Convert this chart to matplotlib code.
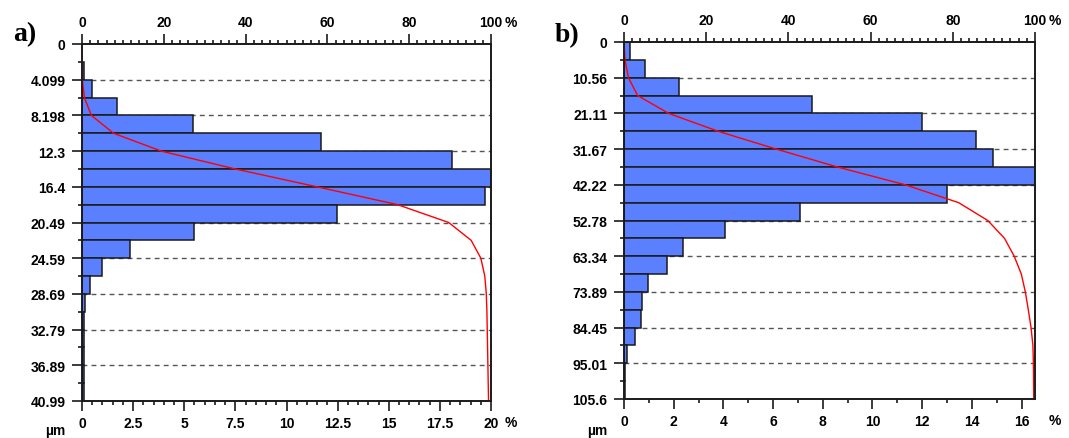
import numpy as np
import matplotlib.pyplot as plt
from matplotlib.ticker import MultipleLocator

plt.rcParams['font.family'] = ['Liberation Sans', 'DejaVu Sans']
plt.rcParams['font.weight'] = 'bold'

# a) size classes 0 .. 40.99 um, frequency in % per class
depth_a = 40.99
freq_a = [0.0, 0.08, 0.5, 1.71, 5.41, 11.68, 18.07, 20.0, 19.71, 12.49,
          5.5, 2.37, 0.96, 0.37, 0.15, 0.08, 0.08, 0.08, 0.08, 0.08]
labels_a = ['0', '4.099', '8.198', '12.3', '16.4', '20.49', '24.59',
            '28.69', '32.79', '36.89', '40.99']
pct_ticks_a = [0, 2.5, 5, 7.5, 10, 12.5, 15, 17.5, 20]

# b) size classes 0 .. 105.6 um
depth_b = 105.6
freq_b = [0.23, 0.86, 2.22, 7.57, 12.01, 14.16, 14.84, 16.54, 12.99, 7.09,
          4.07, 2.36, 1.73, 0.98, 0.72, 0.67, 0.45, 0.12, 0.04, 0.04]
labels_b = ['0', '10.56', '21.11', '31.67', '42.22', '52.78', '63.34',
            '73.89', '84.45', '95.01', '105.6']
pct_ticks_b = [0, 2, 4, 6, 8, 10, 12, 14, 16]

cum_ticks = [0, 20, 40, 60, 80, 100]

BLUE = '#5a80ff'
INK = '#1a1a1a'

fig = plt.figure(figsize=(10.69, 4.39), dpi=100)
W, H = 1069, 439


def px_rect(x0, y0, x1, y1):
    return [x0 / W, 1 - y1 / H, (x1 - x0) / W, (y1 - y0) / H]


def panel(rect, depth, freq, ylabels, xticks, xminor):
    ax = fig.add_axes(rect)
    edges = np.linspace(0, depth, len(freq) + 1)
    ax.barh(edges[:-1], freq, height=np.diff(edges), align='edge',
            color=BLUE, edgecolor=INK, linewidth=1.1, zorder=2)
    for y in edges[2:-1:2]:
        ax.axhline(y, color='#555555', lw=1.0, ls=(0, (3.5, 3)), zorder=1)
    ax.set_ylim(depth, 0)
    ax.set_xlim(0, max(freq))
    ax.set_yticks(edges[::2], ylabels)
    ax.set_yticks(edges[1::2], minor=True)
    ax.set_xticks(xticks, [f'{t:g}' for t in xticks])
    ax.xaxis.set_minor_locator(MultipleLocator(xminor))
    ax.tick_params(which='major', direction='out', length=7, width=1.2,
                   labelsize=10, pad=4, color=INK)
    ax.tick_params(which='minor', direction='out', length=3, width=1.2,
                   color=INK)
    ax.tick_params(axis='y', pad=5)
    for s in ax.spines.values():
        s.set_linewidth(1.2)
        s.set_color(INK)

    # cumulative curve on the top axis
    cum = ax.twiny()
    cum.set_xlim(0, 100)
    cum.plot(np.concatenate([[0], np.cumsum(freq)]), edges,
             color='red', lw=1.0)
    cum.set_xticks(cum_ticks, [f'{t:g}' for t in cum_ticks])
    cum.xaxis.set_minor_locator(MultipleLocator(2))
    cum.tick_params(which='major', direction='out', length=7, width=1.2,
                    labelsize=10, pad=4, color=INK)
    cum.tick_params(which='minor', direction='out', length=3, width=1.2,
                    color=INK)
    for s in cum.spines.values():
        s.set_linewidth(1.2)
        s.set_color(INK)

    ax.annotate('%', xy=(1, 0), xycoords='axes fraction', xytext=(20, -21),
                textcoords='offset pixels', ha='center', va='center',
                fontsize=10)
    ax.annotate('%', xy=(1, 1), xycoords='axes fraction', xytext=(20, 22),
                textcoords='offset pixels', ha='center', va='center',
                fontsize=10)
    return ax


panel(px_rect(82, 45, 491, 402), depth_a, freq_a, labels_a, pct_ticks_a, 0.5)
panel(px_rect(624, 43, 1035, 400), depth_b, freq_b, labels_b, pct_ticks_b, 1)

for x, y, tag in [(25, 35, 'a)'), (567, 36, 'b)')]:
    fig.text(x / W, 1 - y / H, tag, ha='center', va='center', fontsize=20,
             fontweight='bold', family='Liberation Serif')
for x in (55, 597):
    fig.text(x / W, 1 - 431 / H, 'µm', ha='center', va='center', fontsize=10)

fig.savefig('out.png', dpi=100)
